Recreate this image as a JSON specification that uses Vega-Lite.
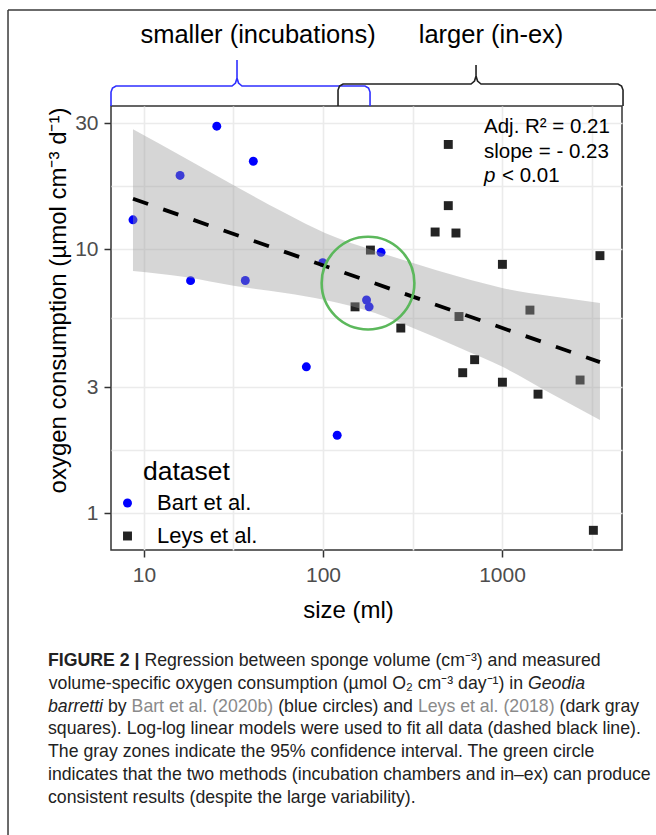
{
  "$schema": "https://vega.github.io/schema/vega-lite/v6.json",
  "width": 511,
  "height": 444,
  "autosize": {"type": "none"},
  "padding": {"left": 111, "top": 106, "right": 34, "bottom": 285},
  "background": "#ffffff",
  "config": {
    "font": "Liberation Sans",
    "view": {"stroke": "#333333", "strokeWidth": 1.5},
    "axis": {
      "domain": false,
      "grid": true,
      "gridColor": "#EBEBEB",
      "gridWidth": 1.6,
      "tickColor": "#333333",
      "tickWidth": 1.5,
      "tickSize": 7,
      "labelFontSize": 21,
      "labelColor": "#4D4D4D",
      "labelOverlap": false,
      "labelFlush": false,
      "titleFontSize": 24,
      "titleFontWeight": "normal",
      "titleColor": "#000000"
    }
  },
  "datasets": {
    "pts": [
      {"size": 25.5, "o2": 29.2, "dataset": "Bart et al."},
      {"size": 40.8, "o2": 21.5, "dataset": "Bart et al."},
      {"size": 15.9, "o2": 19.0, "dataset": "Bart et al."},
      {"size": 8.68, "o2": 12.9, "dataset": "Bart et al."},
      {"size": 18.2, "o2": 7.59, "dataset": "Bart et al."},
      {"size": 36.8, "o2": 7.6, "dataset": "Bart et al."},
      {"size": 99.6, "o2": 8.87, "dataset": "Bart et al."},
      {"size": 175, "o2": 6.41, "dataset": "Bart et al."},
      {"size": 181, "o2": 6.04, "dataset": "Bart et al."},
      {"size": 211, "o2": 9.72, "dataset": "Bart et al."},
      {"size": 80.7, "o2": 3.58, "dataset": "Bart et al."},
      {"size": 120, "o2": 1.97, "dataset": "Bart et al."},
      {"size": 184, "o2": 9.91, "dataset": "Leys et al."},
      {"size": 151, "o2": 6.04, "dataset": "Leys et al."},
      {"size": 501, "o2": 24.9, "dataset": "Leys et al."},
      {"size": 501, "o2": 14.6, "dataset": "Leys et al."},
      {"size": 423, "o2": 11.6, "dataset": "Leys et al."},
      {"size": 553, "o2": 11.5, "dataset": "Leys et al."},
      {"size": 3524, "o2": 9.44, "dataset": "Leys et al."},
      {"size": 1005, "o2": 8.75, "dataset": "Leys et al."},
      {"size": 272, "o2": 5.02, "dataset": "Leys et al."},
      {"size": 575, "o2": 5.55, "dataset": "Leys et al."},
      {"size": 1432, "o2": 5.87, "dataset": "Leys et al."},
      {"size": 703, "o2": 3.81, "dataset": "Leys et al."},
      {"size": 603, "o2": 3.4, "dataset": "Leys et al."},
      {"size": 1005, "o2": 3.13, "dataset": "Leys et al."},
      {"size": 1589, "o2": 2.82, "dataset": "Leys et al."},
      {"size": 2729, "o2": 3.19, "dataset": "Leys et al."},
      {"size": 3238, "o2": 0.86, "dataset": "Leys et al."}
    ],
    "band": [
      {"size": 8.68, "o2": 8.25, "o2hi": 28.4},
      {"size": 16.95, "o2": 7.83, "o2hi": 22.12},
      {"size": 32.24, "o2": 7.24, "o2hi": 17.33},
      {"size": 61.33, "o2": 6.81, "o2hi": 13.69},
      {"size": 102.6, "o2": 6.41, "o2hi": 11.5},
      {"size": 195.2, "o2": 5.72, "o2hi": 9.83},
      {"size": 318.3, "o2": 5.02, "o2hi": 8.85},
      {"size": 582.6, "o2": 4.22, "o2hi": 7.83},
      {"size": 1013, "o2": 3.57, "o2hi": 7.11},
      {"size": 1854, "o2": 2.85, "o2hi": 6.64},
      {"size": 3524, "o2": 2.25, "o2hi": 6.25}
    ],
    "fit": [
      {"size": 8.68, "o2": 15.5},
      {"size": 3524, "o2": 3.73}
    ],
    "brace": [
      {"brace": "s", "ord": 1, "size": 6.541, "o2": 34.82},
      {"brace": "s", "ord": 2, "size": 6.541, "o2": 39.33},
      {"brace": "s", "ord": 3, "size": 6.669, "o2": 40.72},
      {"brace": "s", "ord": 4, "size": 6.976, "o2": 41.44},
      {"brace": "s", "ord": 5, "size": 31.02, "o2": 41.44},
      {"brace": "s", "ord": 6, "size": 32.45, "o2": 42.54},
      {"brace": "s", "ord": 7, "size": 33.08, "o2": 44.43},
      {"brace": "s", "ord": 8, "size": 33.08, "o2": 51.99},
      {"brace": "s", "ord": 9, "size": 33.08, "o2": 44.43},
      {"brace": "s", "ord": 10, "size": 33.72, "o2": 42.54},
      {"brace": "s", "ord": 11, "size": 35.28, "o2": 41.44},
      {"brace": "s", "ord": 12, "size": 171.6, "o2": 41.44},
      {"brace": "s", "ord": 13, "size": 179.6, "o2": 40.72},
      {"brace": "s", "ord": 14, "size": 183.1, "o2": 39.33},
      {"brace": "s", "ord": 15, "size": 183.1, "o2": 34.82},
      {"brace": "l", "ord": 1, "size": 121.3, "o2": 34.82},
      {"brace": "l", "ord": 2, "size": 121.3, "o2": 40.02},
      {"brace": "l", "ord": 3, "size": 123.7, "o2": 41.44},
      {"brace": "l", "ord": 4, "size": 129.4, "o2": 42.17},
      {"brace": "l", "ord": 5, "size": 671.2, "o2": 42.17},
      {"brace": "l", "ord": 6, "size": 702.0, "o2": 43.3},
      {"brace": "l", "ord": 7, "size": 715.8, "o2": 45.22},
      {"brace": "l", "ord": 8, "size": 715.8, "o2": 49.78},
      {"brace": "l", "ord": 9, "size": 715.8, "o2": 45.22},
      {"brace": "l", "ord": 10, "size": 729.7, "o2": 43.3},
      {"brace": "l", "ord": 11, "size": 763.2, "o2": 42.17},
      {"brace": "l", "ord": 12, "size": 4447, "o2": 42.17},
      {"brace": "l", "ord": 13, "size": 4652, "o2": 41.44},
      {"brace": "l", "ord": 14, "size": 4742, "o2": 40.02},
      {"brace": "l", "ord": 15, "size": 4742, "o2": 34.82}
    ],
    "notes": [
      {"key": "frame", "label": ""},
      {"key": "circle", "label": ""},
      {"key": "r2", "label": "Adj. R² = 0.21"},
      {"key": "slope", "label": "slope = - 0.23"},
      {"key": "p", "label": "p"},
      {"key": "pval", "label": "< 0.01"},
      {"key": "small", "label": "smaller (incubations)"},
      {"key": "large", "label": "larger (in-ex)"}
    ],
    "caption": [
      {"line": 1, "part": "bold", "text": "FIGURE 2 |"},
      {"line": 1, "part": "l1", "text": "Regression between sponge volume (cm⁻³) and measured"},
      {"line": 2, "part": "l2", "text": "volume-specific oxygen consumption (µmol O₂ cm⁻³ day⁻¹) in"},
      {"line": 2, "part": "l2i", "text": "Geodia"},
      {"line": 3, "part": "l3i", "text": "barretti"},
      {"line": 3, "part": "l3a", "text": "by"},
      {"line": 3, "part": "l3r1", "text": "Bart et al. (2020b)"},
      {"line": 3, "part": "l3b", "text": "(blue circles) and"},
      {"line": 3, "part": "l3r2", "text": "Leys et al. (2018)"},
      {"line": 3, "part": "l3c", "text": "(dark gray"},
      {"line": 4, "part": "plain", "text": "squares). Log-log linear models were used to fit all data (dashed black line)."},
      {"line": 5, "part": "plain", "text": "The gray zones indicate the 95% confidence interval. The green circle"},
      {"line": 6, "part": "plain", "text": "indicates that the two methods (incubation chambers and in–ex) can produce"},
      {"line": 7, "part": "plain", "text": "consistent results (despite the large variability)."}
    ]
  },
  "resolve": {"scale": {"y": "independent"}},
  "layer": [
    {
      "layer": [
        {
          "encoding": {
            "x": {
              "field": "size", "type": "quantitative", "title": "size (ml)",
              "scale": {"type": "log", "domain": [6.541, 4680], "nice": false},
              "axis": {
                "values": [10, 31.62, 100, 316.2, 1000, 3162],
                "format": "d",
                "labelExpr": "indexof([10, 100, 1000], datum.value) >= 0 ? datum.label : ''",
                "tickOpacity": {"condition": {"test": "indexof([10, 100, 1000], datum.value) >= 0", "value": 1}, "value": 0},
                "labelBaseline": "alphabetic",
                "labelPadding": 24,
                "titleX": 237,
                "titleY": 67.5,
                "titleBaseline": "alphabetic"
              }
            },
            "y": {
              "field": "o2", "type": "quantitative", "title": "oxygen consumption (µmol cm⁻³ d⁻¹)",
              "scale": {"type": "log", "domain": [0.7243, 34.82], "nice": false},
              "axis": {
                "values": [1, 1.732, 3, 5.477, 10, 17.32, 30],
                "format": "d",
                "labelExpr": "indexof([1, 3, 10, 30], datum.value) >= 0 ? datum.label : ''",
                "tickOpacity": {"condition": {"test": "indexof([1, 3, 10, 30], datum.value) >= 0", "value": 1}, "value": 0},
                "labelPadding": 6,
                "titleX": -46,
                "titleY": 194,
                "titleBaseline": "alphabetic"
              }
            }
          },
          "layer": [
            {
              "data": {"name": "pts"},
              "mark": {"type": "point", "filled": true, "opacity": 1, "size": 80, "strokeWidth": 0},
              "encoding": {
                "color": {
                  "field": "dataset", "type": "nominal",
                  "scale": {"domain": ["Bart et al.", "Leys et al."], "range": ["#0000FF", "#232323"]},
                  "legend": {
                    "title": "dataset",
                    "orient": "none",
                    "legendX": 5.5,
                    "legendY": 353,
                    "padding": 0,
                    "titleFontSize": 26.5,
                    "titleFontWeight": "normal",
                    "titleColor": "#000000",
                    "titleAnchor": "middle",
                    "titlePadding": 6.5,
                    "labelFontSize": 22,
                    "labelColor": "#000000",
                    "labelOffset": 18.6,
                    "rowPadding": 11,
                    "symbolSize": 80,
                    "symbolOpacity": 1,
                    "symbolStrokeWidth": 0
                  }
                },
                "shape": {
                  "field": "dataset", "type": "nominal",
                  "scale": {"domain": ["Bart et al.", "Leys et al."], "range": ["circle", "square"]}
                }
              }
            },
            {
              "data": {"name": "band"},
              "mark": {"type": "area", "color": "#999999", "opacity": 0.4, "interpolate": "monotone"},
              "encoding": {"y2": {"field": "o2hi"}}
            },
            {
              "data": {"name": "fit"},
              "mark": {"type": "line", "color": "#000000", "strokeWidth": 3.8, "strokeDash": [16, 16]},
              "encoding": {}
            },
            {
              "data": {"name": "brace"},
              "transform": [{"filter": "datum.brace == 's'"}],
              "mark": {"type": "line", "color": "#2F2FFF", "strokeWidth": 1.6},
              "encoding": {"order": {"field": "ord", "type": "quantitative"}}
            },
            {
              "data": {"name": "brace"},
              "transform": [{"filter": "datum.brace == 'l'"}],
              "mark": {"type": "line", "color": "#222222", "strokeWidth": 1.6},
              "encoding": {"order": {"field": "ord", "type": "quantitative"}}
            }
          ]
        },
        {
          "data": {"name": "notes"},
          "layer": [
            {
              "transform": [{"filter": "datum.key == 'frame'"}],
              "mark": {"type": "rule", "color": "#3a3a3a", "strokeWidth": 1.5},
              "encoding": {"x": {"datum": 1.739}, "x2": {"datum": 12760}, "y": {"datum": 80.4}}
            },
            {
              "transform": [{"filter": "datum.key == 'frame'"}],
              "mark": {"type": "rule", "color": "#3a3a3a", "strokeWidth": 1.5},
              "encoding": {"x": {"datum": 1.739}, "y": {"datum": 80.4}, "y2": {"datum": 0.0342}}
            },
            {
              "transform": [{"filter": "datum.key == 'circle'"}],
              "mark": {"type": "point", "shape": "circle", "filled": false, "size": 8600, "color": "#5CB85C", "strokeWidth": 2.6, "opacity": 1},
              "encoding": {"x": {"datum": 178.4}, "y": {"datum": 7.428}}
            },
            {
              "transform": [{"filter": "datum.key == 'r2'"}],
              "mark": {"type": "text", "align": "left", "baseline": "alphabetic", "fontSize": 20.5, "color": "#000000"},
              "encoding": {"x": {"datum": 793.2}, "y": {"datum": 27.5}, "text": {"field": "label"}}
            },
            {
              "transform": [{"filter": "datum.key == 'slope'"}],
              "mark": {"type": "text", "align": "left", "baseline": "alphabetic", "fontSize": 20.5, "color": "#000000"},
              "encoding": {"x": {"datum": 793.2}, "y": {"datum": 22.21}, "text": {"field": "label"}}
            },
            {
              "transform": [{"filter": "datum.key == 'p'"}],
              "mark": {"type": "text", "align": "left", "baseline": "alphabetic", "fontSize": 20.5, "fontStyle": "italic", "color": "#000000"},
              "encoding": {"x": {"datum": 793.2}, "y": {"datum": 17.94}, "text": {"field": "label"}}
            },
            {
              "transform": [{"filter": "datum.key == 'pval'"}],
              "mark": {"type": "text", "align": "left", "baseline": "alphabetic", "fontSize": 20.5, "dx": 18, "color": "#000000"},
              "encoding": {"x": {"datum": 793.2}, "y": {"datum": 17.94}, "text": {"field": "label"}}
            },
            {
              "transform": [{"filter": "datum.key == 'small'"}],
              "mark": {"type": "text", "align": "center", "baseline": "alphabetic", "fontSize": 25.5, "color": "#000000"},
              "encoding": {"x": {"datum": 43.35}, "y": {"datum": 60.3}, "text": {"field": "label"}}
            },
            {
              "transform": [{"filter": "datum.key == 'large'"}],
              "mark": {"type": "text", "align": "center", "baseline": "alphabetic", "fontSize": 25.5, "color": "#000000"},
              "encoding": {"x": {"datum": 868.2}, "y": {"datum": 60.3}, "text": {"field": "label"}}
            }
          ]
        }
      ]
    },
    {
      "data": {"name": "caption"},
      "encoding": {
        "x": {"datum": 2.9085, "type": "quantitative"},
        "y": {
          "field": "line", "type": "quantitative",
          "scale": {"domain": [-23.561, -4.087], "reverse": true, "zero": false, "nice": false},
          "axis": null
        },
        "text": {"field": "text"}
      },
      "layer": [
        {"transform": [{"filter": "datum.part == 'bold'"}], "mark": {"type": "text", "align": "left", "baseline": "alphabetic", "fontSize": 17.7, "fontWeight": "bold", "color": "#222222"}},
        {"transform": [{"filter": "datum.part == 'l1'"}], "mark": {"type": "text", "align": "left", "baseline": "alphabetic", "fontSize": 17.7, "dx": 96.4, "color": "#222222"}},
        {"transform": [{"filter": "datum.part == 'l2'"}], "mark": {"type": "text", "align": "right", "baseline": "alphabetic", "fontSize": 17.7, "dx": 475.1, "color": "#222222"}},
        {"transform": [{"filter": "datum.part == 'l2i'"}], "mark": {"type": "text", "align": "left", "baseline": "alphabetic", "fontSize": 17.7, "fontStyle": "italic", "dx": 480, "color": "#222222"}},
        {"transform": [{"filter": "datum.part == 'l3i'"}], "mark": {"type": "text", "align": "left", "baseline": "alphabetic", "fontSize": 17.7, "fontStyle": "italic", "color": "#222222"}},
        {"transform": [{"filter": "datum.part == 'l3a'"}], "mark": {"type": "text", "align": "left", "baseline": "alphabetic", "fontSize": 17.7, "dx": 60.0, "color": "#222222"}},
        {"transform": [{"filter": "datum.part == 'l3r1'"}], "mark": {"type": "text", "align": "left", "baseline": "alphabetic", "fontSize": 17.7, "dx": 83.6, "color": "#8A8A8A"}},
        {"transform": [{"filter": "datum.part == 'l3b'"}], "mark": {"type": "text", "align": "left", "baseline": "alphabetic", "fontSize": 17.7, "dx": 230.2, "color": "#222222"}},
        {"transform": [{"filter": "datum.part == 'l3r2'"}], "mark": {"type": "text", "align": "left", "baseline": "alphabetic", "fontSize": 17.7, "dx": 369.9, "color": "#8A8A8A"}},
        {"transform": [{"filter": "datum.part == 'l3c'"}], "mark": {"type": "text", "align": "left", "baseline": "alphabetic", "fontSize": 17.7, "dx": 511.5, "color": "#222222"}},
        {"transform": [{"filter": "datum.part == 'plain'"}], "mark": {"type": "text", "align": "left", "baseline": "alphabetic", "fontSize": 17.7, "color": "#222222"}}
      ]
    }
  ]
}
